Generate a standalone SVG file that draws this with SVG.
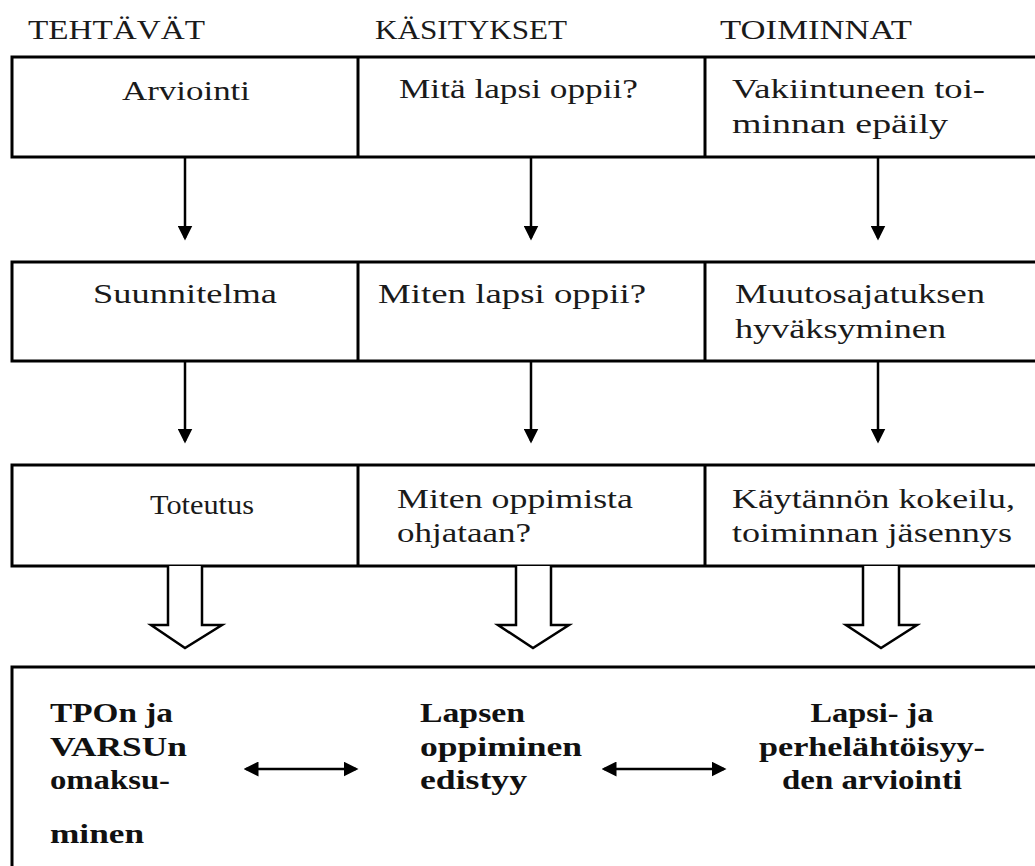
<svg xmlns="http://www.w3.org/2000/svg" width="1035" height="866" viewBox="0 0 1035 866">
<style>
.t{font-family:"Liberation Serif","Times New Roman",serif;font-size:28px;fill:#1a1a1a}
.b{font-family:"Liberation Serif","Times New Roman",serif;font-size:28px;font-weight:bold;fill:#111}
.box{fill:#fff;stroke:#000;stroke-width:3}
.div{stroke:#000;stroke-width:3}
.ar{stroke:#000;stroke-width:2.5;fill:none}
.hollow{fill:#fff;stroke:#000;stroke-width:2.5;stroke-linejoin:miter}
</style>
<defs>
<marker id="ah" markerWidth="6" markerHeight="6" refX="5" refY="3" orient="auto" markerUnits="strokeWidth">
<path d="M0,0 L6,3 L0,6 Z" fill="#000"/>
</marker>
<marker id="ahs" markerWidth="6" markerHeight="6" refX="5" refY="3" orient="auto-start-reverse" markerUnits="strokeWidth">
<path d="M0,0 L6,3 L0,6 Z" fill="#000"/>
</marker>
</defs>
<rect width="1035" height="866" fill="#fff"/>
<g id="headers">
<text class="t" x="28" y="39" textLength="177" lengthAdjust="spacingAndGlyphs">TEHTÄVÄT</text>
<text class="t" x="375" y="39" textLength="192" lengthAdjust="spacingAndGlyphs">KÄSITYKSET</text>
<text class="t" x="720" y="39" textLength="192" lengthAdjust="spacingAndGlyphs">TOIMINNAT</text>
</g>
<g id="row1">
<rect class="box" x="12" y="57" width="1040" height="100"/>
<line class="div" x1="358" y1="57" x2="358" y2="157"/>
<line class="div" x1="705" y1="57" x2="705" y2="157"/>
</g>
<g id="arviointi"><text class="t" x="122" y="100" textLength="128" lengthAdjust="spacingAndGlyphs">Arviointi</text></g>
<g id="mita"><text class="t" x="399" y="98" textLength="239" lengthAdjust="spacingAndGlyphs">Mitä lapsi oppii?</text></g>
<g id="vakiintuneen"><text class="t" x="732" y="98" textLength="253" lengthAdjust="spacingAndGlyphs">Vakiintuneen toi-</text><text class="t" x="732" y="133" textLength="216" lengthAdjust="spacingAndGlyphs">minnan epäily</text></g>
<g id="row2">
<rect class="box" x="12" y="262" width="1040" height="99"/>
<line class="div" x1="358" y1="262" x2="358" y2="361"/>
<line class="div" x1="705" y1="262" x2="705" y2="361"/>
</g>
<g id="suunnitelma"><text class="t" x="93" y="303" textLength="184" lengthAdjust="spacingAndGlyphs">Suunnitelma</text></g>
<g id="miten"><text class="t" x="378" y="303" textLength="268" lengthAdjust="spacingAndGlyphs">Miten lapsi oppii?</text></g>
<g id="muutos"><text class="t" x="735" y="303" textLength="250" lengthAdjust="spacingAndGlyphs">Muutosajatuksen</text><text class="t" x="735" y="338" textLength="211" lengthAdjust="spacingAndGlyphs">hyväksyminen</text></g>
<g id="row3">
<rect class="box" x="12" y="465" width="1040" height="101"/>
<line class="div" x1="358" y1="465" x2="358" y2="566"/>
<line class="div" x1="705" y1="465" x2="705" y2="566"/>
</g>
<g id="toteutus"><text class="t" x="150" y="514" textLength="104" lengthAdjust="spacingAndGlyphs">Toteutus</text></g>
<g id="ohjataan"><text class="t" x="397" y="508" textLength="236" lengthAdjust="spacingAndGlyphs">Miten oppimista</text><text class="t" x="397" y="542" textLength="134" lengthAdjust="spacingAndGlyphs">ohjataan?</text></g>
<g id="kokeilu"><text class="t" x="732" y="508" textLength="283" lengthAdjust="spacingAndGlyphs">Käytännön kokeilu,</text><text class="t" x="732" y="542" textLength="280" lengthAdjust="spacingAndGlyphs">toiminnan jäsennys</text></g>
<g id="bottom">
<rect class="box" x="12" y="667" width="1040" height="220"/>
</g>
<g id="tpon">
<text class="b" x="50" y="722" textLength="123" lengthAdjust="spacingAndGlyphs">TPOn ja</text>
<text class="b" x="50" y="756" textLength="137" lengthAdjust="spacingAndGlyphs">VARSUn</text>
<text class="b" x="50" y="789" textLength="120" lengthAdjust="spacingAndGlyphs">omaksu-</text>
<text class="b" x="50" y="843" textLength="94" lengthAdjust="spacingAndGlyphs">minen</text>
</g>
<g id="lapsen">
<text class="b" x="420" y="722" textLength="105" lengthAdjust="spacingAndGlyphs">Lapsen</text>
<text class="b" x="420" y="756" textLength="162" lengthAdjust="spacingAndGlyphs">oppiminen</text>
<text class="b" x="420" y="789" textLength="107" lengthAdjust="spacingAndGlyphs">edistyy</text>
</g>
<g id="lapsi">
<text class="b" x="872" y="722" text-anchor="middle" textLength="123" lengthAdjust="spacingAndGlyphs">Lapsi- ja</text>
<text class="b" x="872" y="756" text-anchor="middle" textLength="226" lengthAdjust="spacingAndGlyphs">perhelähtöisyy-</text>
<text class="b" x="872" y="789" text-anchor="middle" textLength="180" lengthAdjust="spacingAndGlyphs">den arviointi</text>
</g>
<g id="connectors">
<line class="ar" x1="185" y1="157" x2="185" y2="238" marker-end="url(#ah)"/>
<line class="ar" x1="531" y1="157" x2="531" y2="238" marker-end="url(#ah)"/>
<line class="ar" x1="878" y1="157" x2="878" y2="238" marker-end="url(#ah)"/>
<line class="ar" x1="185" y1="361" x2="185" y2="441" marker-end="url(#ah)"/>
<line class="ar" x1="531" y1="361" x2="531" y2="441" marker-end="url(#ah)"/>
<line class="ar" x1="878" y1="361" x2="878" y2="441" marker-end="url(#ah)"/>
<path class="hollow" d="M168,566 V625 H151 L185,648 L222,625 H202 V566"/>
<path class="hollow" d="M516,566 V625 H498 L533,648 L569,625 H551 V566"/>
<path class="hollow" d="M863,566 V625 H846 L881,648 L917,625 H899 V566"/>
<line class="ar" x1="246" y1="769" x2="356" y2="769" marker-start="url(#ahs)" marker-end="url(#ah)"/>
<line class="ar" x1="604" y1="769" x2="724" y2="769" marker-start="url(#ahs)" marker-end="url(#ah)"/>
</g>
</svg>
